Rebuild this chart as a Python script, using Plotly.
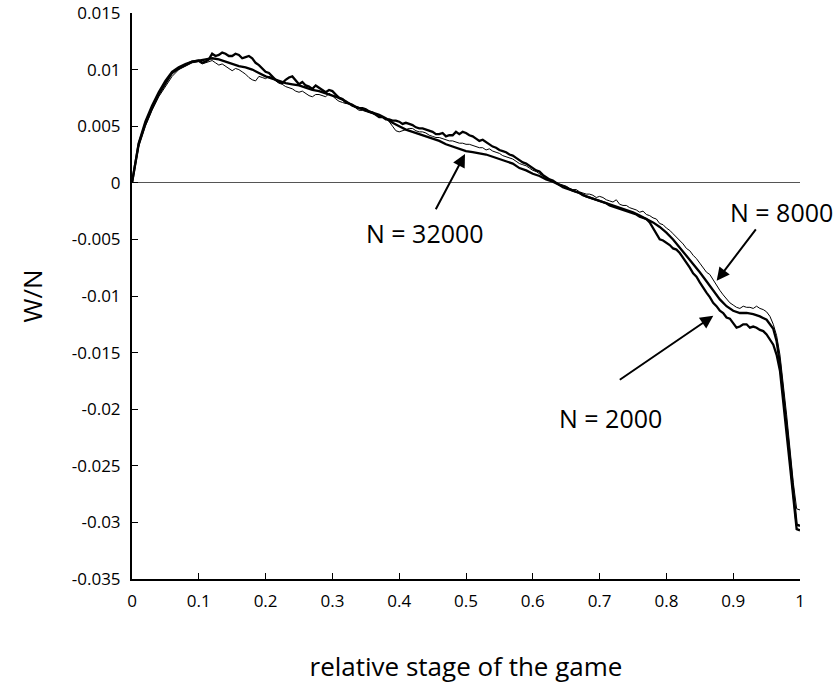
import plotly.graph_objects as go

# Coarse grid used for the N = 32000 run
stage = [0.0, 0.01, 0.02, 0.03, 0.04, 0.05, 0.06, 0.07, 0.08, 0.09,
         0.10, 0.11, 0.12, 0.13, 0.14, 0.15, 0.16, 0.17, 0.18, 0.19,
         0.20, 0.21, 0.22, 0.23, 0.24, 0.25, 0.26, 0.27, 0.28, 0.29,
         0.30, 0.31, 0.32, 0.33, 0.34, 0.35, 0.36, 0.37, 0.38, 0.39,
         0.40, 0.41, 0.42, 0.43, 0.44, 0.45, 0.46, 0.47, 0.48, 0.49,
         0.50, 0.51, 0.52, 0.53, 0.54, 0.55, 0.56, 0.57, 0.58, 0.59,
         0.60, 0.61, 0.62, 0.63, 0.64, 0.65, 0.66, 0.67, 0.68, 0.69,
         0.70, 0.71, 0.72, 0.73, 0.74, 0.75, 0.76, 0.77, 0.78, 0.79,
         0.80, 0.81, 0.82, 0.83, 0.84, 0.85, 0.86, 0.87, 0.88, 0.89,
         0.90, 0.91, 0.92, 0.93, 0.94, 0.95, 0.96, 0.965, 0.97, 0.98,
         0.99, 0.995, 1.0]

# Finer grid used for the noisier N = 2000 and N = 8000 runs
stage_fine = [0.0, 0.01, 0.02, 0.03, 0.04, 0.05, 0.06, 0.07, 0.08, 0.09,
              0.100, 0.105, 0.110, 0.115, 0.120, 0.125, 0.130, 0.135, 0.140, 0.145,
              0.150, 0.155, 0.160, 0.165, 0.170, 0.175, 0.180, 0.185, 0.190, 0.195,
              0.200, 0.205, 0.210, 0.215, 0.220, 0.225, 0.230, 0.235, 0.240, 0.245,
              0.250, 0.255, 0.260, 0.265, 0.270, 0.275, 0.280, 0.285, 0.290, 0.295,
              0.300, 0.305, 0.310, 0.315, 0.320, 0.325, 0.330, 0.335, 0.340, 0.345,
              0.350, 0.355, 0.360, 0.365, 0.370, 0.375, 0.380, 0.385, 0.390, 0.395,
              0.400, 0.405, 0.410, 0.415, 0.420, 0.425, 0.430, 0.435, 0.440, 0.445,
              0.450, 0.455, 0.460, 0.465, 0.470, 0.475, 0.480, 0.485, 0.490, 0.495,
              0.500, 0.505, 0.510, 0.515, 0.520, 0.525, 0.530, 0.535, 0.540, 0.545,
              0.550, 0.555, 0.560, 0.565, 0.570, 0.575, 0.580, 0.585, 0.590, 0.595,
              0.600, 0.605, 0.610, 0.615, 0.620, 0.625, 0.630, 0.635, 0.640, 0.645,
              0.650, 0.655, 0.660, 0.665, 0.670, 0.675, 0.680, 0.685, 0.690, 0.695,
              0.700, 0.705, 0.710, 0.715, 0.720, 0.725, 0.730, 0.735, 0.740, 0.745,
              0.750, 0.755, 0.760, 0.765, 0.770, 0.775, 0.780, 0.785, 0.790, 0.795,
              0.800, 0.805, 0.810, 0.815, 0.820, 0.825, 0.830, 0.835, 0.840, 0.845,
              0.850, 0.855, 0.860, 0.865, 0.870, 0.875, 0.880, 0.885, 0.890, 0.895,
              0.900, 0.905, 0.910, 0.915, 0.920, 0.925, 0.930, 0.935, 0.940, 0.945,
              0.950, 0.955, 0.960, 0.965, 0.970, 0.980, 0.990, 0.995, 1.0]

# W/N for N = 2000 (on stage_fine)
wn_2000 = [0.0, 0.0034, 0.0052, 0.0066, 0.0078, 0.0088, 0.0097, 0.0101, 0.0104, 0.0107,
           0.0108, 0.0106, 0.0107, 0.0109, 0.0114, 0.0112, 0.0113, 0.0115, 0.0114, 0.0112,
           0.0112, 0.0114, 0.0113, 0.0110, 0.0111, 0.0112, 0.0110, 0.0106, 0.0104, 0.0101,
           0.0098, 0.0097, 0.0094, 0.0091, 0.0089, 0.0088, 0.0091, 0.0093, 0.0094, 0.0090,
           0.0087, 0.0089, 0.0086, 0.0085, 0.0083, 0.0086, 0.0084, 0.0082, 0.0080, 0.0082,
           0.0081, 0.0078, 0.0075, 0.0074, 0.0071, 0.0070, 0.0069, 0.0067, 0.0066, 0.0066,
           0.0065, 0.0063, 0.0062, 0.0060, 0.0058, 0.0058, 0.0056, 0.0056, 0.0055, 0.0055,
           0.0054, 0.0052, 0.0053, 0.0052, 0.0051, 0.0049, 0.0048, 0.0048, 0.0047, 0.0046,
           0.0045, 0.0043, 0.0043, 0.0044, 0.0041, 0.0042, 0.0042, 0.0045, 0.0043, 0.0045,
           0.0044, 0.0042, 0.0041, 0.0039, 0.0037, 0.0038, 0.0036, 0.0034, 0.0032, 0.0031,
           0.0029, 0.0028, 0.0027, 0.0025, 0.0024, 0.0022, 0.0020, 0.0018, 0.0017, 0.0015,
           0.0013, 0.0011, 0.0010, 0.0007, 0.0005, 0.0003, 0.0002, 0.0000, -0.0002, -0.0004,
           -0.0005, -0.0006, -0.0007, -0.0008, -0.0009, -0.0011, -0.0012, -0.0013, -0.0014, -0.0015,
           -0.0016, -0.0017, -0.0018, -0.0020, -0.0021, -0.0022, -0.0023, -0.0024, -0.0025, -0.0026,
           -0.0027, -0.0028, -0.0030, -0.0031, -0.0032, -0.0035, -0.0040, -0.0046, -0.0050, -0.0051,
           -0.0053, -0.0055, -0.0058, -0.0059, -0.0062, -0.0066, -0.0070, -0.0075, -0.0080, -0.0083,
           -0.0088, -0.0093, -0.0097, -0.0101, -0.0106, -0.0109, -0.0113, -0.0115, -0.0119, -0.0120,
           -0.0124, -0.0128, -0.0127, -0.0125, -0.0125, -0.0128, -0.0127, -0.0128, -0.0130, -0.0131,
           -0.0134, -0.0138, -0.0143, -0.0152, -0.0166, -0.0222, -0.0282, -0.0306, -0.0307]

# W/N for N = 8000 (on stage_fine)
wn_8000 = [0.0, 0.0032, 0.0050, 0.0064, 0.0076, 0.0085, 0.0094, 0.0100, 0.0103, 0.0106,
           0.0107, 0.0105, 0.0106, 0.0107, 0.0108, 0.0106, 0.0104, 0.0105, 0.0103, 0.0101,
           0.0099, 0.0101, 0.0100, 0.0098, 0.0096, 0.0093, 0.0091, 0.0090, 0.0094, 0.0093,
           0.0092, 0.0094, 0.0093, 0.0090, 0.0088, 0.0087, 0.0085, 0.0084, 0.0083, 0.0081,
           0.0080, 0.0081, 0.0079, 0.0077, 0.0076, 0.0078, 0.0078, 0.0077, 0.0076, 0.0079,
           0.0077, 0.0074, 0.0072, 0.0071, 0.0070, 0.0070, 0.0069, 0.0066, 0.0064, 0.0064,
           0.0063, 0.0062, 0.0061, 0.0060, 0.0058, 0.0058, 0.0057, 0.0054, 0.0050, 0.0046,
           0.0045, 0.0046, 0.0047, 0.0048, 0.0048, 0.0046, 0.0045, 0.0045, 0.0044, 0.0042,
           0.0041, 0.0040, 0.0040, 0.0039, 0.0038, 0.0037, 0.0037, 0.0036, 0.0035, 0.0035,
           0.0034, 0.0034, 0.0033, 0.0032, 0.0031, 0.0031, 0.0029, 0.0030, 0.0028, 0.0027,
           0.0026, 0.0024, 0.0023, 0.0022, 0.0021, 0.0019, 0.0017, 0.0016, 0.0015, 0.0013,
           0.0011, 0.0010, 0.0008, 0.0006, 0.0004, 0.0002, 0.0001, 0.0000, -0.0001, -0.0002,
           -0.0003, -0.0005, -0.0006, -0.0006, -0.0008, -0.0009, -0.0010, -0.0010, -0.0011, -0.0013,
           -0.0012, -0.0013, -0.0015, -0.0016, -0.0017, -0.0015, -0.0019, -0.0020, -0.0020, -0.0022,
           -0.0023, -0.0024, -0.0026, -0.0025, -0.0028, -0.0029, -0.0031, -0.0032, -0.0036, -0.0037,
           -0.0040, -0.0042, -0.0045, -0.0048, -0.0051, -0.0054, -0.0058, -0.0060, -0.0064, -0.0067,
           -0.0071, -0.0075, -0.0079, -0.0081, -0.0086, -0.0090, -0.0095, -0.0099, -0.0103, -0.0106,
           -0.0108, -0.0110, -0.0111, -0.0109, -0.0110, -0.0110, -0.0111, -0.0109, -0.0111, -0.0112,
           -0.0114, -0.0118, -0.0125, -0.0135, -0.0152, -0.0205, -0.0265, -0.0288, -0.0289]

# W/N for N = 32000 (on stage)
wn_32000 = [0.0, 0.0035, 0.0054, 0.0068, 0.0080, 0.0090, 0.0098, 0.0102, 0.0105, 0.0107,
            0.0108, 0.0109, 0.0110, 0.0109, 0.0107, 0.0105, 0.0103, 0.0102, 0.0100, 0.0097,
            0.0094, 0.0092, 0.0090, 0.0088, 0.0087, 0.0086, 0.0084, 0.0082, 0.0081, 0.0079,
            0.0077, 0.0075, 0.0072, 0.0068, 0.0066, 0.0064, 0.0062, 0.0060, 0.0057, 0.0053,
            0.0050, 0.0047, 0.0045, 0.0043, 0.0041, 0.0039, 0.0037, 0.0034, 0.0032, 0.0030,
            0.0028, 0.0027, 0.0026, 0.0025, 0.0023, 0.0021, 0.0019, 0.0017, 0.0013, 0.0011,
            0.0008, 0.0006, 0.0003, 0.0001, -0.0002, -0.0004, -0.0007, -0.0009, -0.0012, -0.0014,
            -0.0016, -0.0018, -0.0020, -0.0022, -0.0024, -0.0026, -0.0029, -0.0032, -0.0035, -0.0039,
            -0.0044, -0.0050, -0.0057, -0.0064, -0.0071, -0.0079, -0.0087, -0.0095, -0.0103, -0.0109,
            -0.0113, -0.0115, -0.0115, -0.0116, -0.0118, -0.0121, -0.0129, -0.0140, -0.0160, -0.0215,
            -0.0275, -0.0302, -0.0303]

x_ticks = [0, 0.1, 0.2, 0.3, 0.4, 0.5, 0.6, 0.7, 0.8, 0.9, 1]
x_tick_text = ["0", "0.1", "0.2", "0.3", "0.4", "0.5", "0.6", "0.7", "0.8", "0.9", "1"]
y_ticks = [0.015, 0.01, 0.005, 0, -0.005, -0.01, -0.015, -0.02, -0.025, -0.03, -0.035]
y_tick_text = ["0.015", "0.01", "0.005", "0", "-0.005", "-0.01", "-0.015", "-0.02",
               "-0.025", "-0.03", "-0.035"]

# Callouts: label, text position, arrow tail, arrow head (data coords)
callouts = [
    ("N = 32000", (0.4386, -0.00446), (0.4536, -0.00247), (0.4985, 0.00254)),
    ("N = 8000", (0.973, -0.00262), (0.9356, -0.00398), (0.8753, -0.00866)),
    ("N = 2000", (0.7156, -0.02076), (0.728, -0.01749), (0.8702, -0.01175)),
]

FONT = "Open Sans"

fig = go.Figure()
fig.add_trace(go.Scatter(x=stage, y=wn_32000, mode="lines", name="N = 32000",
                         line=dict(color="black", width=2.3)))
fig.add_trace(go.Scatter(x=stage_fine, y=wn_2000, mode="lines", name="N = 2000",
                         line=dict(color="black", width=2.3)))
fig.add_trace(go.Scatter(x=stage_fine, y=wn_8000, mode="lines", name="N = 8000",
                         line=dict(color="black", width=1.0)))

annotations = []
for label, (tx, ty), (ax_, ay_), (hx, hy) in callouts:
    annotations.append(dict(x=hx, y=hy, ax=ax_, ay=ay_, xref="x", yref="y",
                            axref="x", ayref="y", text="", showarrow=True,
                            arrowhead=2, arrowsize=1.3, arrowwidth=2, arrowcolor="black"))
    annotations.append(dict(x=tx, y=ty, xref="x", yref="y", text=label, showarrow=False,
                            font=dict(family=FONT, size=25, color="black"),
                            xanchor="center", yanchor="middle"))

fig.update_layout(
    width=838, height=686,
    margin=dict(l=132, r=38, t=13, b=107, autoexpand=False),
    plot_bgcolor="white", paper_bgcolor="white",
    showlegend=False,
    font=dict(family=FONT, color="black"),
    annotations=annotations,
    xaxis=dict(range=[0, 1], tickvals=x_ticks, ticktext=x_tick_text, automargin=False,
               showgrid=False, zeroline=False, showline=True, linecolor="black",
               linewidth=2, ticks="inside", ticklen=6, tickwidth=1, tickcolor="black",
               tickfont=dict(family=FONT, size=17), ticklabelstandoff=6,
               title=dict(text="relative stage of the game",
                          font=dict(family=FONT, size=26), standoff=46)),
    yaxis=dict(range=[-0.035, 0.015], tickvals=y_ticks, ticktext=y_tick_text, automargin=False,
               showgrid=False, zeroline=True, zerolinecolor="#555555", zerolinewidth=1.2,
               showline=True, linecolor="black", linewidth=2,
               ticks="inside", ticklen=6, tickwidth=1, tickcolor="black",
               tickfont=dict(family=FONT, size=17), ticklabelstandoff=6,
               title=dict(text="W/N", font=dict(family=FONT, size=26), standoff=22)),
)

fig.write_html("out.html")
